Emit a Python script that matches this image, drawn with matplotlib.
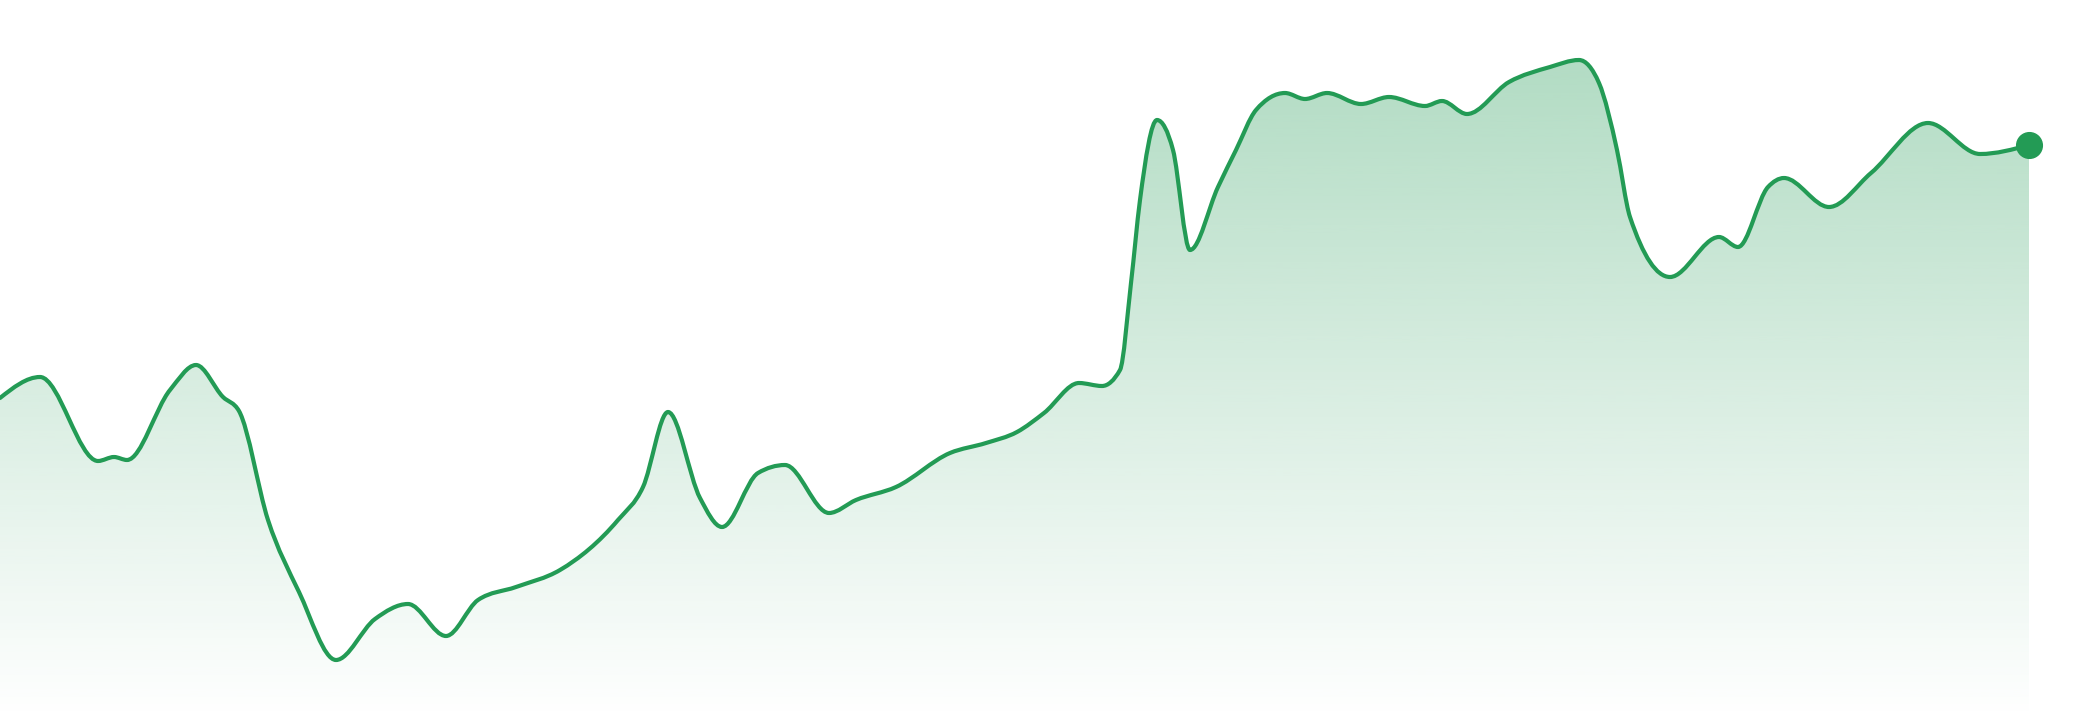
import numpy as np
import matplotlib
matplotlib.use("Agg")
from matplotlib import pyplot as plt
from matplotlib.path import Path
from matplotlib.patches import PathPatch

# x position (time steps) and value
t = [0, 40, 98, 114, 127, 170, 196, 223, 239, 268, 299, 336, 375, 408, 446,
     478, 516, 560, 618, 643, 668, 700, 722, 758, 785, 829, 856, 896, 950,
     986, 1017, 1044, 1079, 1102, 1120, 1131, 1140, 1157, 1173, 1190, 1218,
     1236, 1256, 1285, 1305, 1327, 1361, 1389, 1425, 1442, 1467, 1509, 1550,
     1579, 1599, 1617, 1630, 1670, 1719, 1738, 1768, 1784, 1829, 1871, 1928,
     1980, 2029]
y_px = [398, 377, 461, 457, 460, 390, 365, 397, 411, 520, 592, 660, 619, 604,
        636, 600, 587, 570, 520, 487, 412, 498, 527, 473, 465, 513, 500, 487,
        453, 443, 432, 413, 383, 386, 370, 283, 200, 120, 150, 250, 187, 150,
        110, 93, 99, 93, 104, 97, 106, 101, 114, 82, 67, 60, 83, 150, 217, 277,
        237, 247, 187, 178, 207, 173, 123, 154, 145]
value = [720 - v for v in y_px]

LINE = "#239b55"


def monotone_path(xs, ys):
    # d3 style monotoneX curve as cubic bezier segments
    xs = np.asarray(xs, float)
    ys = np.asarray(ys, float)
    n = len(xs)
    h = np.diff(xs)
    d = np.diff(ys) / h
    m = np.zeros(n)
    for i in range(1, n - 1):
        if d[i - 1] * d[i] <= 0:
            m[i] = 0
        else:
            p = (d[i - 1] * h[i] + d[i] * h[i - 1]) / (h[i - 1] + h[i])
            m[i] = (np.sign(d[i - 1]) + np.sign(d[i])) * min(abs(d[i - 1]), abs(d[i]), 0.5 * abs(p))
    m[0] = (3 * d[0] - m[1]) / 2 if n > 2 else d[0]
    m[-1] = (3 * d[-1] - m[-2]) / 2 if n > 2 else d[-1]
    verts = [(xs[0], ys[0])]
    codes = [Path.MOVETO]
    for i in range(n - 1):
        dx = h[i] / 3
        verts += [(xs[i] + dx, ys[i] + m[i] * dx),
                  (xs[i + 1] - dx, ys[i + 1] - m[i + 1] * dx),
                  (xs[i + 1], ys[i + 1])]
        codes += [Path.CURVE4] * 3
    return verts, codes


fig = plt.figure(figsize=(20.8, 7.2), dpi=100)
ax = fig.add_axes([0, 0, 1, 1])
ax.set_xlim(0, 2080)
ax.set_ylim(0, 720)
ax.axis("off")

verts, codes = monotone_path(t, value)

# area under the curve, filled with a vertical gradient
fill_verts = verts + [(t[-1], 0), (t[0], 0), verts[0]]
fill_codes = codes + [Path.LINETO, Path.LINETO, Path.CLOSEPOLY]
clip = PathPatch(Path(fill_verts, fill_codes), facecolor="none", edgecolor="none",
                 transform=ax.transData)
ax.add_patch(clip)

top = max(value)
grad = np.zeros((256, 1, 4))
rgb = matplotlib.colors.to_rgb(LINE)
grad[:, 0, :3] = rgb
grad[:, 0, 3] = np.linspace(0.35, 0.0, 256)
img = ax.imshow(grad, extent=[t[0], t[-1], 0, top], aspect="auto", origin="upper",
                interpolation="bicubic", zorder=1)
img.set_clip_path(clip)

line = PathPatch(Path(verts, codes), facecolor="none", edgecolor=LINE, linewidth=3.0,
                 capstyle="round", joinstyle="round", zorder=2)
ax.add_patch(line)

ax.plot([t[-1]], [value[-1]], "o", color=LINE, markersize=18.5, zorder=3)

fig.savefig("out.png", dpi=100)
